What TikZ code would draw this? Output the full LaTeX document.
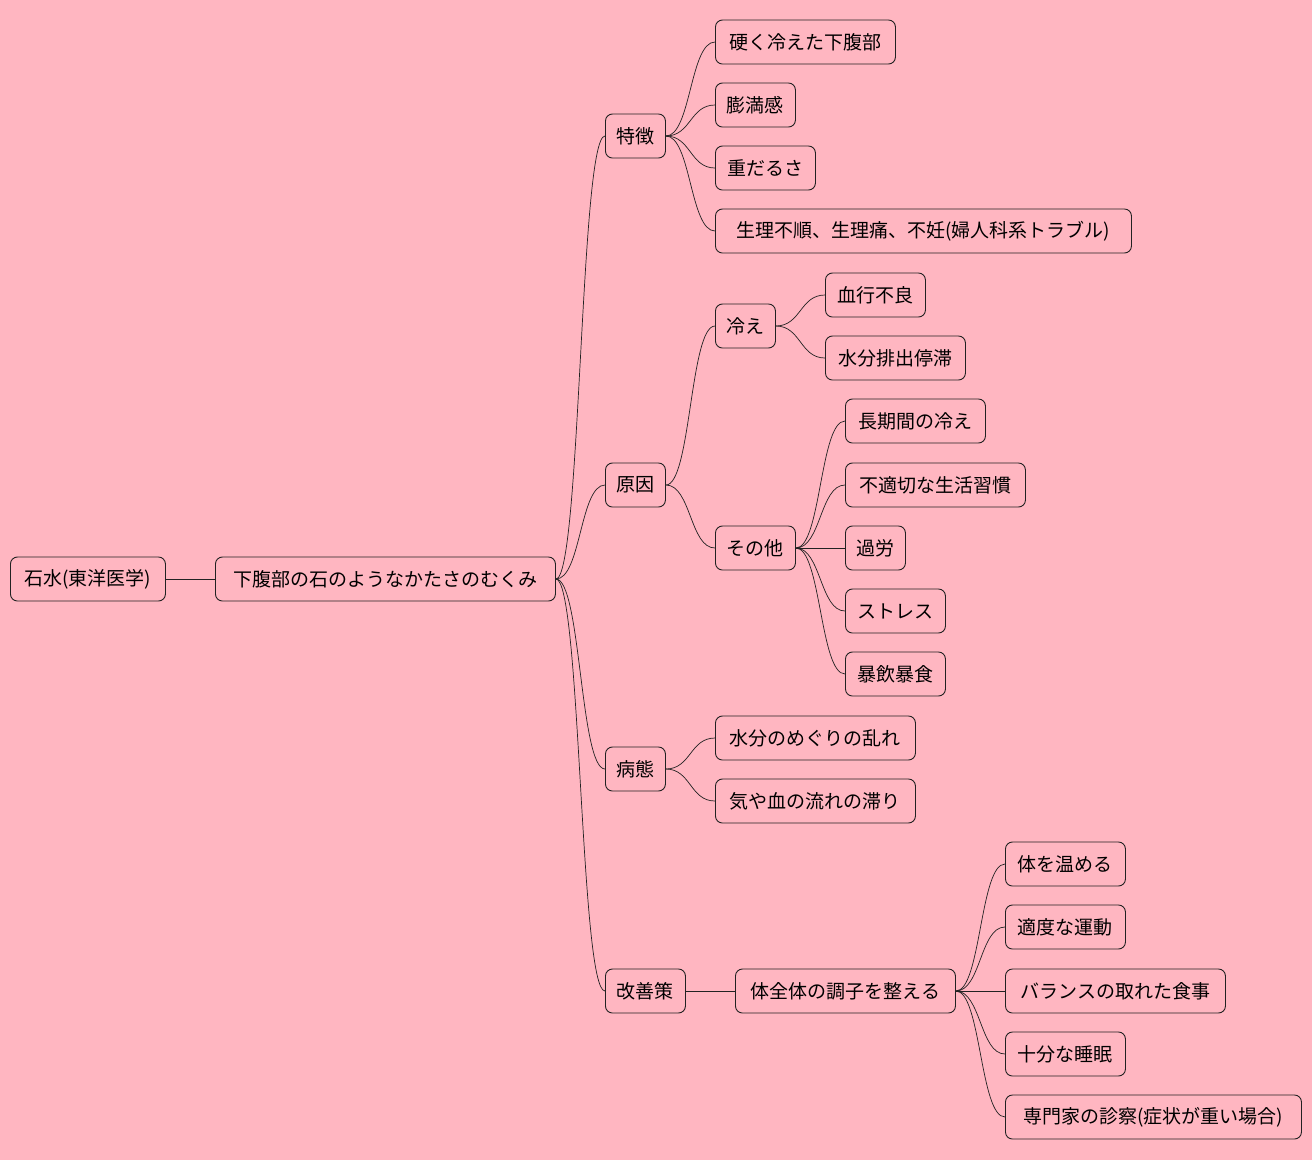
\documentclass[tikz,border=0pt]{standalone}
\usepackage{fontspec}
\setmainfont{Noto Sans CJK JP}
\definecolor{bg}{HTML}{FFB6C1}
\definecolor{ln}{HTML}{222222}
\begin{document}
\begin{tikzpicture}[x=1pt,y=-1pt,
  box/.style={draw=ln,fill=bg,rounded corners=7pt,minimum height=44pt,inner sep=0pt,anchor=west,font=\fontsize{19}{22}\selectfont,line width=0.9pt},
  edge/.style={draw=ln,line width=0.7pt}]
\fill[bg] (0,0) rectangle (1312,1160);
\useasboundingbox (0,0) rectangle (1312,1160);
\newcommand\bx[5]{\node[box,minimum width=#4-#3] (#1) at (#3,#5) {#2};}
\bx{r}{石水(東洋医学)}{10}{165}{579}
\bx{m}{下腹部の石のようなかたさのむくみ}{215}{555}{579}
\bx{a}{特徴}{605}{665}{136}
\bx{a1}{硬く冷えた下腹部}{715}{895}{42}
\bx{a2}{膨満感}{715}{795}{105}
\bx{a3}{重だるさ}{715}{815}{168}
\bx{a4}{生理不順、生理痛、不妊(婦人科系トラブル)}{715}{1131}{231}
\bx{b}{原因}{605}{665}{485}
\bx{b1}{冷え}{715}{775}{326}
\bx{b11}{血行不良}{825}{925}{295}
\bx{b12}{水分排出停滞}{825}{965}{358}
\bx{b2}{その他}{715}{795}{548}
\bx{b21}{長期間の冷え}{845}{985}{421}
\bx{b22}{不適切な生活習慣}{845}{1025}{485}
\bx{b23}{過労}{845}{905}{548}
\bx{b24}{ストレス}{845}{945}{611}
\bx{b25}{暴飲暴食}{845}{945}{674}
\bx{c}{病態}{605}{665}{769}
\bx{c1}{水分のめぐりの乱れ}{715}{915}{738}
\bx{c2}{気や血の流れの滞り}{715}{915}{801}
\bx{d}{改善策}{605}{685}{991}
\bx{d1}{体全体の調子を整える}{735}{955}{991}
\bx{d11}{体を温める}{1005}{1125}{864}
\bx{d12}{適度な運動}{1005}{1125}{927}
\bx{d13}{バランスの取れた食事}{1005}{1225}{991}
\bx{d14}{十分な睡眠}{1005}{1125}{1054}
\bx{d15}{専門家の診察(症状が重い場合)}{1005}{1301}{1117}
\foreach \p/\c in {r/m,m/a,m/b,m/c,m/d,a/a1,a/a2,a/a3,a/a4,b/b1,b/b2,b1/b11,b1/b12,b2/b21,b2/b22,b2/b23,b2/b24,b2/b25,c/c1,c/c2,d/d1,d1/d11,d1/d12,d1/d13,d1/d14,d1/d15}
  \draw[edge] (\p.east) .. controls ([xshift=25pt]\p.east) and ([xshift=-25pt]\c.west) .. (\c.west);
\end{tikzpicture}
\end{document}
